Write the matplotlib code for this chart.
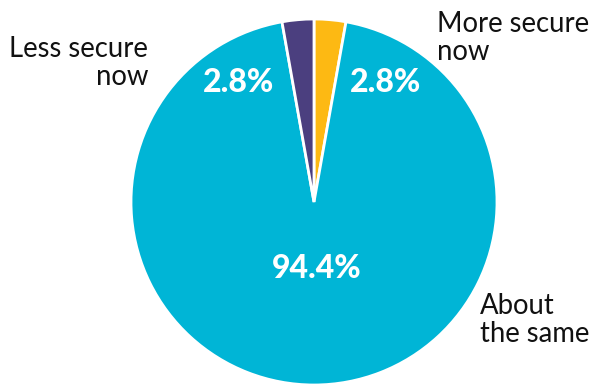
import matplotlib
matplotlib.use("Agg")
import matplotlib.pyplot as plt

# data
labels = ["More secure\nnow", "About\nthe same", "Less secure\nnow"]
values = [2.8, 94.4, 2.8]
colors = ["#FDB913", "#00B5D6", "#4B3F7F"]

W, H = 592, 385
fig = plt.figure(figsize=(W / 100, H / 100), dpi=100)

# pie axes: centre (314, 202), radius 183 px
cx, cy, r = 314, 202, 183
ax = fig.add_axes([(cx - r) / W, (H - cy - r) / H, 2 * r / W, 2 * r / H])
ax.pie(values, colors=colors, startangle=90, counterclock=False,
       wedgeprops=dict(edgecolor="white", linewidth=2))
ax.set_xlim(-1, 1)
ax.set_ylim(-1, 1)
ax.set_aspect("equal")
ax.axis("off")

def px(x, y):
    return x / W, 1 - y / H

# percentage labels inside the slices
pct_pos = [(386, 82), (317, 268), (238, 82)]
for v, (x, y) in zip(values, pct_pos):
    fig.text(*px(x, y), f"{v}%", ha="center", va="center", color="white",
             fontsize=23, fontweight="black", family="Lato")

# category labels outside
fig.text(*px(437, 38), labels[0], ha="left", va="center", fontsize=19.8,
         family="Lato", color="#111111", linespacing=1.12)
fig.text(*px(480, 320), labels[1], ha="left", va="center", fontsize=19.8,
         family="Lato", color="#111111", linespacing=1.12)
fig.text(*px(148, 63), labels[2], ha="right", va="center", fontsize=19.8,
         family="Lato", color="#111111", linespacing=1.12)

fig.savefig("out.png", dpi=100)
